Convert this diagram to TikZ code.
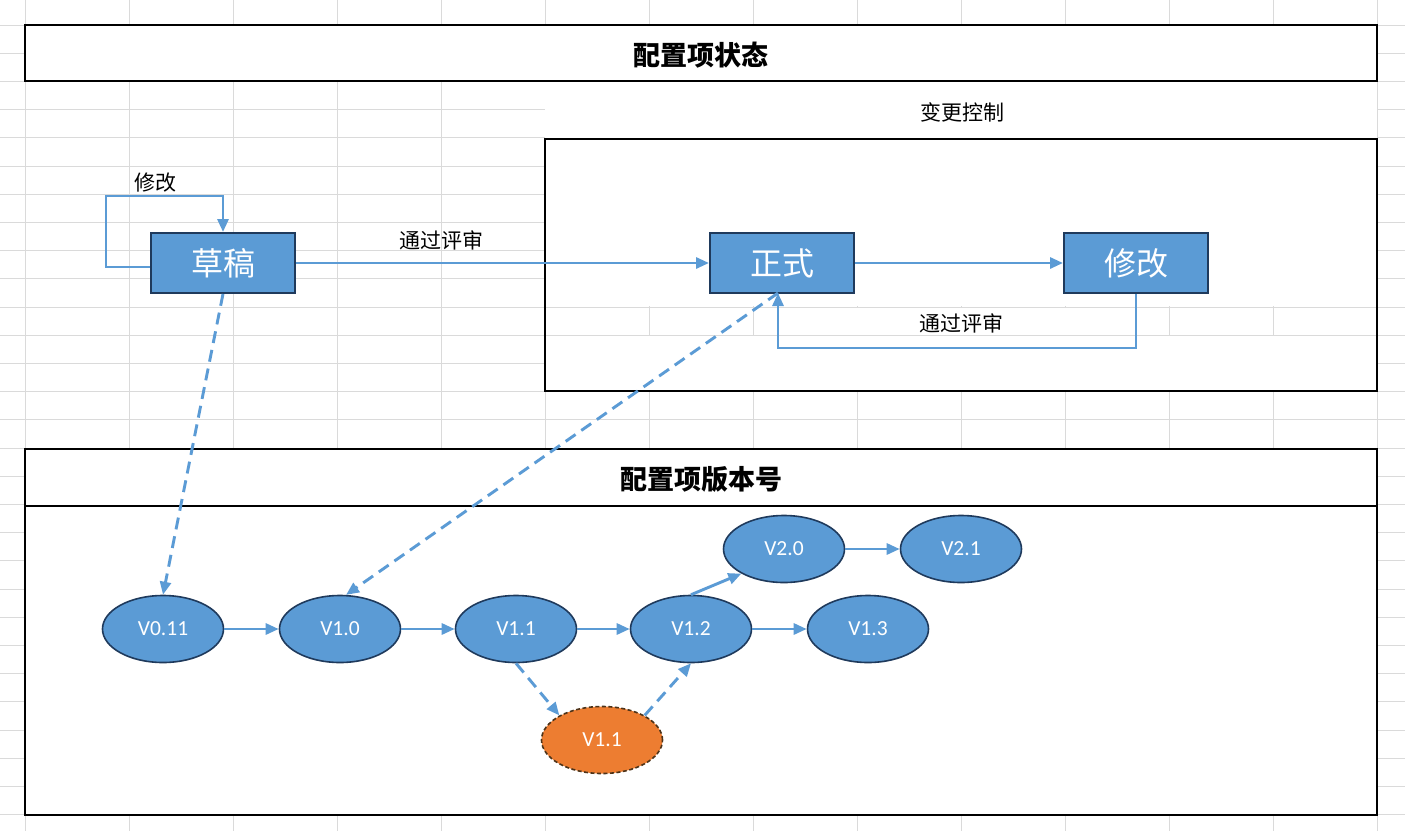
\documentclass[tikz,border=0pt]{standalone}
\usepackage{fontspec}
\setmainfont{Carlito}
\newfontfamily\cjk{Noto Sans CJK SC}
\usetikzlibrary{arrows.meta,shapes.geometric}
\definecolor{blu}{HTML}{5B9BD5}
\definecolor{edgec}{HTML}{1F3A5C}
\definecolor{ora}{HTML}{ED7D31}
\definecolor{orae}{HTML}{4D3319}
\definecolor{gridc}{HTML}{DADADA}
\begin{document}
\begin{tikzpicture}[x=1pt,y=-1pt,
  frame/.style={draw=black,line width=2.2pt},
  state/.style={rectangle,draw=edgec,line width=2pt,fill=blu,minimum width=144pt,minimum height=60pt,inner sep=0pt,text=white,font=\cjk\fontsize{32}{36}\selectfont},
  ver/.style={ellipse,draw=edgec,line width=1.6pt,fill=blu,minimum width=121pt,minimum height=67pt,inner sep=0pt,text=white,font=\fontsize{21.5}{24}\selectfont},
  verx/.style={ver,fill=ora,draw=orae,dash pattern=on 4pt off 2.5pt},
  flow/.style={draw=blu,line width=2.9pt,-{Triangle[length=13pt,width=11pt]}},
  dflow/.style={flow,dash pattern=on 12pt off 7pt},
  lbl/.style={font=\cjk\fontsize{21}{24}\selectfont},
  ttl/.style={font=\cjk\bfseries\fontsize{27}{30}\selectfont}]
\useasboundingbox (0,0) rectangle (1405,831);
\fill[white] (0,0) rectangle (1405,831);
% spreadsheet grid
\foreach \k in {0,...,13} \draw[gridc,line width=1pt] ({25+104*\k},0) -- ({25+104*\k},831);
\foreach \k in {0,...,28} \draw[gridc,line width=1pt] (0,{25+28.2*\k}) -- (1405,{25+28.2*\k});
% white areas
\fill[white] (545,82) rectangle (1377,306.3);
\fill[white] (545,335.9) rectangle (1377,391);
\fill[white] (754,307.7) rectangle (1168,334.5);
% frames
\draw[frame,fill=white] (25,25) rectangle (1377,81);
\node[ttl] (t1) at (701,55) {配置项状态};
\node[lbl] (bk) at (962,112) {变更控制};
\draw[frame] (545,139) rectangle (1377,391);
\draw[frame,fill=white] (25,449) rectangle (1377,815);
\draw[frame] (25,506) -- (1377,506);
\node[ttl] (t2) at (701,479) {配置项版本号};
% state nodes
\node[state] (draft) at (223,263) {草稿};
\node[state] (formal) at (782,263) {正式};
\node[state] (mod) at (1136,263) {修改};
\coordinate (lt) at (106,196);
\coordinate (rb) at (1136,348);
\coordinate (fb) at (778,293);
\draw[flow] ([yshift=-4pt]draft.west) -| (lt) -| (draft.north);
\node[lbl] (l1) at (155,183) {修改};
\draw[flow] (draft) -- (formal);
\node[lbl] (l2) at (441,240) {通过评审};
\draw[flow] (formal) -- (mod);
\draw[flow] (mod.south) -- (rb) -| (fb);
\node[lbl] (l3) at (961,323) {通过评审};
% versions
\node[ver] (v011) at (163,629) {V0.11};
\node[ver] (v10) at (340,629) {V1.0};
\node[ver] (v11) at (516,629) {V1.1};
\node[ver] (v12) at (691,629) {V1.2};
\node[ver] (v13) at (868,629) {V1.3};
\node[ver] (v20) at (784,549) {V2.0};
\node[ver] (v21) at (961,549) {V2.1};
\node[verx] (vo) at (602,740) {V1.1};
\draw[flow] (v011) -- (v10);
\draw[flow] (v10) -- (v11);
\draw[flow] (v11) -- (v12);
\draw[flow] (v12) -- (v13);
\draw[flow] (v20) -- (v21);
\draw[flow] (v12.north) -- (v20.210);
\draw[dflow] (v11.south) -- (vo.150);
\draw[dflow] (vo.30) -- (v12.south);
\draw[dflow] (draft.south) -- (v011.north);
\draw[dflow] (fb) -- (v10.80);
\end{tikzpicture}
\end{document}
